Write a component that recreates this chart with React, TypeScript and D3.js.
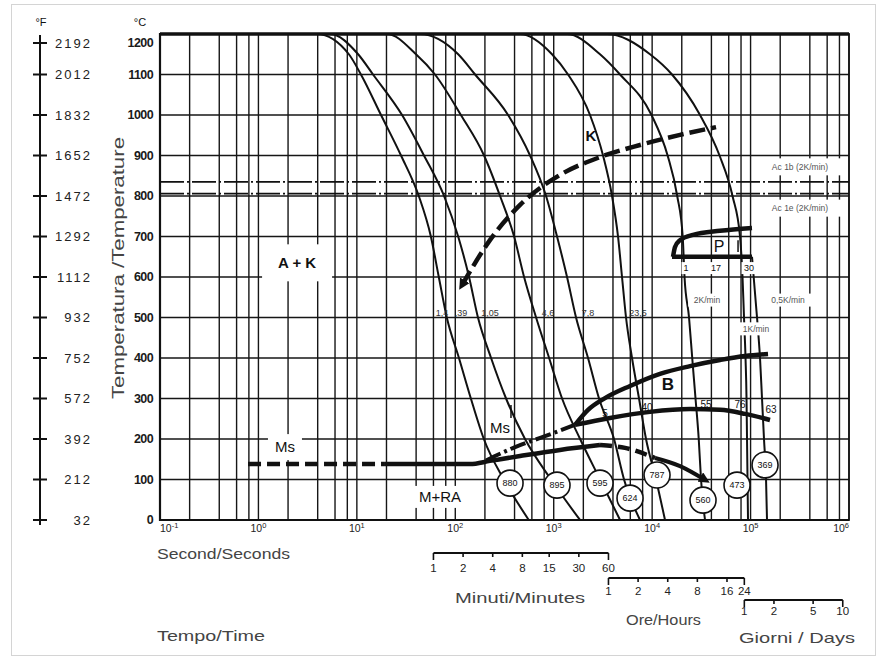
import React from 'react';
import * as d3 from 'd3';

type Pt = [number, number];

// ---------- axis values ----------
const CELSIUS_TICKS = [0, 100, 200, 300, 400, 500, 600, 700, 800, 900, 1000, 1100, 1200];
const FAHRENHEIT_LABELS = ['32', '212', '392', '572', '752', '932', '1112', '1292', '1472', '1652', '1832', '2012', '2192'];
const DECADES = [-1, 0, 1, 2, 3, 4, 5, 6];
const GRID_MULTIPLIERS = [1, 2, 4, 6, 8];
const MINUTE_TICKS = [1, 2, 4, 8, 15, 30, 60];
const HOUR_TICKS = [1, 2, 4, 8, 16, 24];
const DAY_TICKS = [1, 2, 5, 10];

// ---------- cooling curves [time s, temperature °C] ----------
const coolA: Pt[] = [[3.94, 1200], [8.3, 1150], [11.0, 1100], [17.6, 1000], [28.1, 900], [42.6, 800], [56.5, 700], [68, 600], [82, 500], [109, 400], [144, 300], [195, 200], [311, 100], [558, 0]];
const coolB: Pt[] = [[5.34, 1200], [10.3, 1150], [14.6, 1100], [28.8, 1000], [48.1, 900], [76.9, 800], [107, 700], [138, 600], [170, 500], [231, 400], [328, 300], [511, 200], [939, 100], [1850, 0]];
const coolC: Pt[] = [[20.3, 1200], [39.9, 1150], [62.2, 1100], [114, 1000], [196, 900], [285, 800], [396, 700], [500, 600], [662, 500], [898, 400], [1216, 300], [1854, 200], [2958, 100], [4722, 0]];
const coolD: Pt[] = [[43.8, 1200], [107, 1150], [159, 1100], [344, 1000], [575, 900], [836, 800], [1081, 700], [1366, 600], [1686, 500], [2232, 400], [2886, 300], [4101, 200], [5181, 100], [7534, 0]];
const coolE: Pt[] = [[455, 1200], [961, 1150], [1398, 1100], [2338, 1000], [3170, 900], [3912, 800], [4502, 700], [4943, 600], [5428, 500], [6246, 400], [7357, 300], [8666, 200], [10950, 100], [13515, 0]];
const coolF: Pt[] = [[1366, 1200], [2954, 1150], [4718, 1100], [9856, 1000], [14360, 900], [17980, 800], [20440, 700], [21330, 600], [23700, 500], [25540, 400], [27590, 300], [29740, 200], [31380, 100], [34450, 0]];
const coolH: Pt[] = [[3480, 1200], [9517, 1150], [15920, 1100], [30650, 1000], [48370, 900], [65560, 800], [78140, 700], [82830, 600], [85780, 500], [88860, 400], [90960, 300], [92030, 200], [93110, 100], [94190, 0]];
const coolI: Pt[] = [[103400, 650], [116300, 500], [124700, 400], [130700, 300], [136900, 200], [143600, 100], [146900, 0]];
const COOLING = [coolA, coolB, coolC, coolD, coolE, coolF, coolH, coolI];

// ---------- transformation lines ----------
const msDashed: Pt[] = [[0.784, 138], [19.3, 138]];
const msSolid: Pt[] = [[19.3, 138], [141, 138], [225, 146], [455, 158], [1158, 173], [2953, 185]];
const msDashed2: Pt[] = [[2953, 185], [5299, 178], [10700, 153]];
const msEnd: Pt[] = [[10700, 153], [19200, 133], [34450, 99]];
const msUpper: Pt[] = [[205, 147], [405, 180], [816, 207], [1646, 235]];
const bLower: Pt[] = [[1646, 235], [3733, 252], [9517, 267], [24260, 274], [48940, 272], [87830, 262], [157600, 247]];
const bUpper: Pt[] = [[1646, 235], [2232, 272], [3321, 301], [5961, 331], [12020, 361], [24260, 380], [48940, 395], [87830, 405], [150400, 410]];
const kLine: Pt[] = [[117, 580], [225, 691], [455, 778], [1159, 852], [2954, 896], [7532, 926], [19200, 951], [44570, 970]];
const pBottom: Pt[] = [[15920, 650], [103400, 650]];
const pTop: Pt[] = [[16300, 650], [17080, 674], [19200, 691], [26030, 704], [48940, 714], [103400, 721]];
const AC_TEMPS = [835, 806];

// ---------- hardness circles ----------
const HARDNESS_VALUES = ['880', '895', '595', '624', '787', '560', '473', '369'];
const HARDNESS_TIMES = [360, 1080, 2954, 5961, 11210, 32880, 72860, 140300];
const HARDNESS_TEMPS = [91, 86, 91, 54, 111, 49, 86, 136];

// ---------- labels [text, time, temp] ----------
const LAMBDA_LABELS: [string, number, number][] = [['1,4', 73.3, 511], [',39', 114, 511], ['1,05', 225, 511], ['4,6', 876, 511], ['7,8', 2232, 511], ['23,5', 7188, 511]];
const BAINITE_PCT: [string, number, number][] = [['5', 3321, 264], ['40', 8872, 277], ['55', 35270, 286], ['76', 78140, 286], ['63', 161300, 272]];
const PEARLITE_PCT: [string, number, number][] = [['1', 22090, 622], ['17', 44560, 622], ['30', 96430, 622]];
const RATE_LABELS: [string, number, number][] = [['2K/min', 36100, 543], ['0,5K/min', 240200, 543], ['1K/min', 113600, 472]];
const AC_LABELS: [string, number, number][] = [['Ac 1b (2K/min)', 317700, 872], ['Ac 1e (2K/min)', 317700, 770]];

const FONT = 'Liberation Sans, Arial, sans-serif';

export default function App() {
  const x = d3.scaleLog().domain([0.1, 1e6]).range([160, 849]);
  const y = d3.scaleLinear().domain([0, 1200]).range([520, 34]);
  const line = d3.line<Pt>().x(d => x(d[0])).y(d => y(d[1])).curve(d3.curveMonotoneX);
  const straight = d3.line<Pt>().x(d => x(d[0])).y(d => y(d[1]));

  const gridTimes: number[] = [];
  DECADES.slice(0, -1).forEach(e => GRID_MULTIPLIERS.forEach(m => gridTimes.push(m * Math.pow(10, e))));
  gridTimes.push(1e6);

  const boxLabel = (text: string, t: number, T: number, size: number, w: number, h: number, opts: any = {}) => (
    <g key={text + t + T}>
      <rect x={x(t) - w / 2} y={y(T) - h / 2} width={w} height={h} fill="#fff" />
      <text x={x(t)} y={y(T)} dy="0.35em" textAnchor="middle" fontSize={size} fill={opts.fill || '#111'} fontWeight={opts.weight || 'normal'}>{text}</text>
    </g>
  );

  const brackets = [
    { ticks: MINUTE_TICKS, unit: 60, yLine: 553, yText: 572 },
    { ticks: HOUR_TICKS, unit: 3600, yLine: 578, yText: 595 },
    { ticks: DAY_TICKS, unit: 86400, yLine: 600, yText: 615 },
  ];

  return (
    <svg width={879} height={668} style={{ position: 'absolute', left: 0, top: 0, background: '#fff' }} fontFamily={FONT}>
      <defs>
        <marker id="arr" viewBox="0 0 10 10" refX="5" refY="5" markerWidth="11" markerHeight="11" markerUnits="userSpaceOnUse" orient="auto-start-reverse">
          <path d="M0,0 L10,5 L0,10 z" fill="#111" />
        </marker>
      </defs>
      <rect x={11.5} y={4.5} width={864} height={651} fill="none" stroke="#d4d4d4" />

      {/* grid */}
      {CELSIUS_TICKS.map(c => (
        <line key={'h' + c} x1={160} x2={849} y1={y(c)} y2={y(c)} stroke="#161616" strokeWidth={1.4} />
      ))}
      {gridTimes.map(t => (
        <line key={'v' + t} x1={x(t)} x2={x(t)} y1={34} y2={520} stroke="#161616" strokeWidth={1.4} />
      ))}

      {/* white boxes covering grid */}
      {boxLabel('A + K', 2.47, 635, 15, 70, 37, { weight: 'bold' })}
      {boxLabel('Ms', 1.86, 180, 15, 34, 26)}
      {boxLabel('M+RA', 70, 57, 15, 70, 22)}

      {/* Ac lines */}
      {AC_TEMPS.map(T => (
        <line key={'ac' + T} x1={160} x2={849} y1={y(T)} y2={y(T)} stroke="#111" strokeWidth={1.8} strokeDasharray="24,3,2,3" />
      ))}
      {AC_LABELS.map(([s, t, T]) => boxLabel(s, t, T, 8.5, 96, 17, { fill: '#555' }))}

      {/* cooling curves */}
      {COOLING.map((d, i) => {
        const pts: Pt[] = d[0][1] === 1200 ? [[d[0][0] * 0.6, 1200], ...d] : d;
        return <path key={'c' + i} d={line(pts) || ''} fill="none" stroke="#111" strokeWidth={2} />;
      })}

      {/* rate labels / P numbers with white boxes */}
      {RATE_LABELS.map(([s, t, T]) => boxLabel(s, t, T, 8.5, s.length * 5.6 + 4, 13, { fill: '#555' }))}
      {PEARLITE_PCT.map(([s, t, T]) => boxLabel(s, t, T, 9, s.length * 6 + 3, 12))}

      {/* transformation lines */}
      <path d={straight(msDashed) || ''} fill="none" stroke="#111" strokeWidth={4.5} strokeDasharray="13,6" />
      <path d={line(msSolid) || ''} fill="none" stroke="#111" strokeWidth={4.5} />
      <path d={line(msDashed2) || ''} fill="none" stroke="#111" strokeWidth={4.5} strokeDasharray="12,6" />
      <path d={line(msEnd) || ''} fill="none" stroke="#111" strokeWidth={4} markerEnd="url(#arr)" />
      <path d={line(msUpper) || ''} fill="none" stroke="#111" strokeWidth={4} strokeDasharray="16,4,3,4" />
      <path d={line(bLower) || ''} fill="none" stroke="#111" strokeWidth={4.5} />
      <path d={line(bUpper) || ''} fill="none" stroke="#111" strokeWidth={4.5} />
      <path d={line(kLine) || ''} fill="none" stroke="#111" strokeWidth={4.5} strokeDasharray="16,6" markerStart="url(#arr)" />
      <path d={straight(pBottom) || ''} fill="none" stroke="#111" strokeWidth={4.5} />
      <path d={line(pTop) || ''} fill="none" stroke="#111" strokeWidth={4.5} />
      <line x1={x(368)} x2={x(368)} y1={y(284)} y2={y(252)} stroke="#111" strokeWidth={1.5} />
      <line x1={x(74600)} x2={x(74600)} y1={y(691)} y2={y(662)} stroke="#111" strokeWidth={1.5} />

      {/* hardness circles */}
      {HARDNESS_VALUES.map((v, i) => (
        <g key={'hv' + v}>
          <circle cx={x(HARDNESS_TIMES[i])} cy={y(HARDNESS_TEMPS[i])} r={13} fill="#fff" stroke="#111" strokeWidth={1.6} />
          <text x={x(HARDNESS_TIMES[i])} y={y(HARDNESS_TEMPS[i])} dy="0.35em" textAnchor="middle" fontSize={9} fill="#111">{v}</text>
        </g>
      ))}

      {/* region labels */}
      <text x={x(2393)} y={y(948)} dy="0.35em" textAnchor="middle" fontSize={15} fontWeight="bold" fill="#111">K</text>
      <text x={x(47750)} y={y(676)} dy="0.35em" textAnchor="middle" fontSize={16} fill="#111">P</text>
      <text x={x(14490)} y={y(336)} dy="0.35em" textAnchor="middle" fontSize={17} fontWeight="bold" fill="#111">B</text>
      <text x={x(285)} y={y(227)} dy="0.35em" textAnchor="middle" fontSize={15} fill="#111">Ms</text>
      {LAMBDA_LABELS.map(([s, t, T]) => (
        <text key={'l' + s} x={x(t)} y={y(T)} dy="0.35em" textAnchor="middle" fontSize={9} fill="#333">{s}</text>
      ))}
      {BAINITE_PCT.map(([s, t, T]) => (
        <text key={'b' + s} x={x(t)} y={y(T)} dy="0.35em" textAnchor="middle" fontSize={10} fill="#111">{s}</text>
      ))}

      {/* frame */}
      <line x1={160} x2={849} y1={34} y2={34} stroke="#111" strokeWidth={3.5} />
      <line x1={160} x2={160} y1={33} y2={521} stroke="#111" strokeWidth={2.2} />
      <line x1={159} x2={849} y1={520} y2={520} stroke="#111" strokeWidth={2.2} />
      <line x1={849} x2={849} y1={33} y2={521} stroke="#111" strokeWidth={1.6} />

      {/* Celsius axis labels */}
      <text x={140} y={26} textAnchor="middle" fontSize={11} fill="#111">°C</text>
      {CELSIUS_TICKS.map(c => (
        <text key={'cl' + c} x={153} y={y(c) + (c === 1200 ? 9 : 0)} dy="0.35em" textAnchor="end" fontSize={12.5} fontWeight="bold" letterSpacing={-0.6} fill="#1a1a1a">{c}</text>
      ))}

      {/* Fahrenheit axis */}
      <text x={41} y={26} textAnchor="middle" fontSize={11} fill="#111">°F</text>
      <line x1={40} x2={40} y1={35} y2={525} stroke="#111" strokeWidth={2} />
      {CELSIUS_TICKS.map((c, i) => {
        const yy = y(c) + (c === 1200 ? 9 : 0);
        return (
          <g key={'f' + c}>
            <line x1={33} x2={47} y1={yy} y2={yy} stroke="#111" strokeWidth={2} />
            <text x={92} y={yy} dy="0.35em" textAnchor="end" fontSize={13} letterSpacing={2} fill="#222">{FAHRENHEIT_LABELS[i]}</text>
          </g>
        );
      })}

      {/* y title */}
      <text transform="translate(118,268) rotate(-90)" textAnchor="middle" dy="0.35em" fontSize={16} fill="#444" textLength={262} lengthAdjust="spacingAndGlyphs">Temperatura /Temperature</text>

      {/* x tick labels */}
      {DECADES.map((e, i) => (
        <text key={'xt' + e} x={x(Math.pow(10, e))} y={532} fontSize={10.5} fill="#222"
          textAnchor={i === 0 ? 'start' : i === DECADES.length - 1 ? 'end' : 'middle'}>
          10<tspan dy={-4} fontSize={7.5}>{e}</tspan>
        </text>
      ))}

      {/* time unit brackets */}
      {brackets.map((b, bi) => {
        const x0 = x(b.ticks[0] * b.unit);
        const x1 = x(b.ticks[b.ticks.length - 1] * b.unit);
        return (
          <g key={'br' + bi}>
            <line x1={x0} x2={x1} y1={b.yLine} y2={b.yLine} stroke="#111" strokeWidth={2.2} />
            {b.ticks.map((v, j) => (
              <g key={'bt' + v}>
                <line x1={x(v * b.unit)} x2={x(v * b.unit)} y1={b.yLine} y2={b.yLine + (j === 0 || j === b.ticks.length - 1 ? 7 : 4)} stroke="#111" strokeWidth={1.6} />
                <text x={x(v * b.unit)} y={b.yText} textAnchor="middle" fontSize={11.5} fill="#222">{v}</text>
              </g>
            ))}
          </g>
        );
      })}

      <text x={157} y={559} fontSize={15} fill="#444" textLength={133} lengthAdjust="spacingAndGlyphs">Second/Seconds</text>
      <text x={455} y={603} fontSize={15} fill="#444" textLength={130} lengthAdjust="spacingAndGlyphs">Minuti/Minutes</text>
      <text x={626} y={625} fontSize={15} fill="#444" textLength={75} lengthAdjust="spacingAndGlyphs">Ore/Hours</text>
      <text x={157} y={641} fontSize={15} fill="#444" textLength={108} lengthAdjust="spacingAndGlyphs">Tempo/Time</text>
      <text x={739} y={643} fontSize={15} fill="#444" textLength={116} lengthAdjust="spacingAndGlyphs">Giorni / Days</text>
    </svg>
  );
}
